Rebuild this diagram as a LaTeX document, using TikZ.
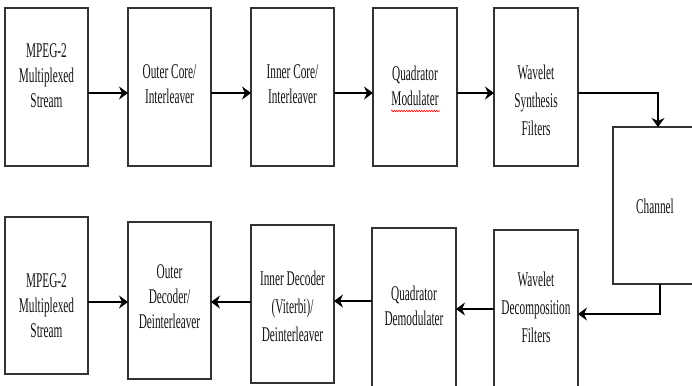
\documentclass[tikz,border=0pt]{standalone}
\usepackage{fontspec}
\setmainfont{Liberation Serif}[FakeStretch=0.54]
\usetikzlibrary{arrows.meta,decorations.pathmorphing}
\begin{document}
\begin{tikzpicture}[x=1bp,y=-1bp,
  box/.style={draw=black!80, line width=1.3bp, rectangle, inner sep=0pt, outer sep=0pt},
  txt/.style={align=center, inner sep=0pt, text=black!92, font=\fontsize{21}{25}\selectfont},
  txtw/.style={txt, font=\fontsize{21}{28}\selectfont},
  conn/.style={line width=1.8bp, black, -{Stealth[length=9bp,width=13bp,inset=3bp]}}
]
\useasboundingbox (0,0) rectangle (692,385);
\clip (0,0) rectangle (692,385);
\fill[white] (0,0) rectangle (692,385);

% top row boxes
\node[box, minimum width=83bp, minimum height=158bp] (b1) at (46.5,87) {};
\node[box, minimum width=83bp, minimum height=158bp] (b2) at (169.5,87) {};
\node[box, minimum width=83bp, minimum height=158bp] (b3) at (292.5,87) {};
\node[box, minimum width=84bp, minimum height=158bp] (b4) at (415,87) {};
\node[box, minimum width=84bp, minimum height=158bp] (b5) at (536,87) {};
% channel
\node[box, minimum width=90bp, minimum height=157bp] (ch) at (658,205.5) {};
% bottom row boxes
\node[box, minimum width=84bp, minimum height=170bp] (wd) at (536,315) {};
\node[box, minimum width=84bp, minimum height=172bp] (qd) at (414,314) {};
\node[box, minimum width=83bp, minimum height=158bp] (id) at (292.5,304) {};
\node[box, minimum width=83bp, minimum height=157bp] (od) at (169.5,300.5) {};
\node[box, minimum width=83bp, minimum height=157bp] (mb) at (46.5,295.5) {};

% texts
\node[txt] (t1) at (46.5,76) {MPEG-2\\Multiplexed\\Stream};
\node[txt] (t2) at (169.5,84) {Outer Core/\\Interleaver};
\node[txt] (t3) at (292.5,84) {Inner Core/\\Interleaver};
\node[txt] (t4) at (415,86) {Quadrator\\Modulater};
\node[txtw] (t5) at (536,100) {Wavelet\\Synthesis\\Filters};
\node[txt] (tc) at (655,206) {Channel};
\node[txtw] (tw) at (536,307) {Wavelet\\Decomposition\\Filters};
\node[txt] (tq) at (414,306) {Quadrator\\Demodulater};
\node[txtw] (ti) at (292.5,306) {Inner Decoder\\(Viterbi)/\\Deinterleaver};
\node[txt] (to) at (169.5,297) {Outer\\Decoder/\\Deinterleaver};
\node[txt] (tm) at (46.5,306) {MPEG-2\\Multiplexed\\Stream};

% spell-check underline
\draw[red, line width=0.6bp, decorate, decoration={snake, amplitude=0.7bp, segment length=2.5bp}] (391,111) -- (440,111);

% connectors top row
\draw[conn] (b1.east |- 0,93) -- (b2.west |- 0,93);
\draw[conn] (b2.east |- 0,93) -- (b3.west |- 0,93);
\draw[conn] (b3.east |- 0,93) -- (b4.west |- 0,93);
\draw[conn] (b4.east |- 0,93) -- (b5.west |- 0,93);
\coordinate (c1) at (658,93);
\draw[conn] (b5.east |- c1) -- (c1) -- (c1 |- ch.north);
% channel to bottom row
\coordinate (c2) at (660,314);
\draw[conn] (c2 |- ch.south) -- (c2) -- (wd.east |- c2);
\draw[conn] (wd.west |- 0,309) -- (qd.east |- 0,309);
\draw[conn] (qd.west |- 0,301) -- (id.east |- 0,301);
\draw[conn] (id.west |- 0,302) -- (od.east |- 0,302);
\draw[conn] (mb.east |- 0,302) -- (od.west |- 0,302);
\end{tikzpicture}
\end{document}
